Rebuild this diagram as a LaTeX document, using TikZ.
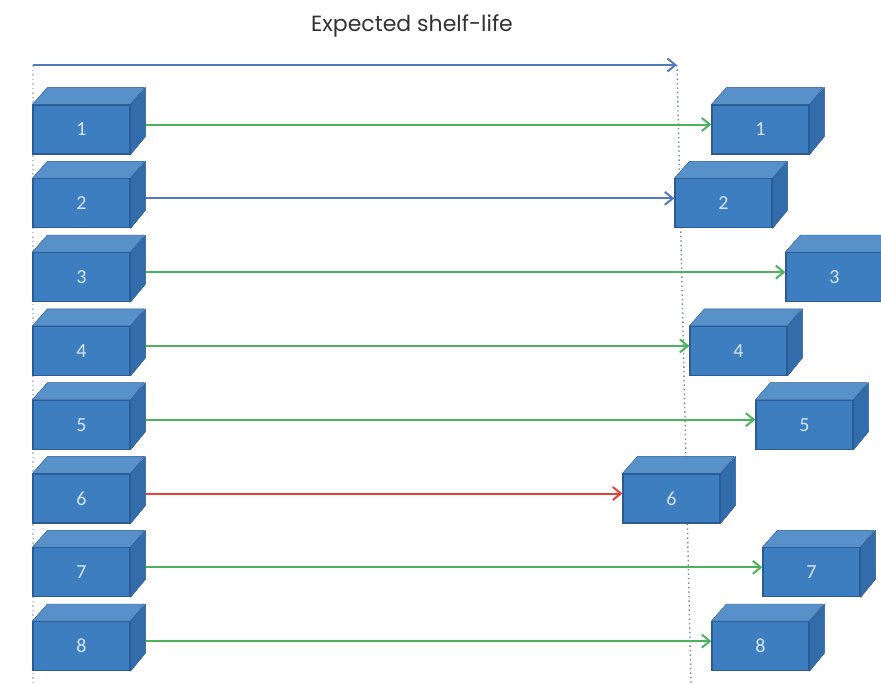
\documentclass[tikz,border=0pt]{standalone}
\usepackage{fontspec}
\setmainfont{Carlito}
\newfontfamily\titlefont{Poppins}
\usepackage{xcolor}
\usetikzlibrary{arrows.meta}

\definecolor{boxfront}{RGB}{60,126,192}
\definecolor{boxtop}{RGB}{88,144,202}
\definecolor{boxside}{RGB}{50,108,170}
\definecolor{boxedge}{RGB}{44,90,146}
\definecolor{boxtext}{RGB}{215,228,245}
\definecolor{okgreen}{RGB}{76,178,92}
\definecolor{lifeblue}{RGB}{82,120,190}
\definecolor{badred}{RGB}{232,64,52}
\definecolor{guidegray}{RGB}{120,135,170}

% front face as node, top and side faces drawn from its anchors
\newcommand\crate[4]{%
  \node[crate] (#1) at (#2+48.5,#3+24.5) {#4};
  \filldraw[draw=boxedge, fill=boxtop, line join=round]
    (#1.north west) -- ++(15pt,17pt) -- ++(97pt,0pt) -- (#1.north east) -- cycle;
  \filldraw[draw=boxedge, fill=boxside, line join=round]
    (#1.north east) -- ++(15pt,17pt) -- ++(0pt,-49pt) -- (#1.south east) -- cycle;
}

\begin{document}
\begin{tikzpicture}[x=1pt, y=-1pt,
  crate/.style={draw=boxedge, fill=boxfront, line width=1.2pt, inner sep=0pt,
                minimum width=97pt, minimum height=49pt, text=boxtext,
                font=\fontsize{20}{20}\selectfont},
  flow/.style={-{Straight Barb[length=8pt, width=13pt]}, line width=2pt},
  guide/.style={guidegray, line width=1.4pt, dash pattern=on 1.5pt off 3pt}
]
\useasboundingbox (0,0) rectangle (881,683);
\clip (0,0) rectangle (881,683);
\node[font=\titlefont\fontsize{22}{22}\selectfont, text=black!80] (title) at (412,26) {Expected shelf-life};
\coordinate (t0) at (33,65);
\coordinate (t1) at (677,65);
\coordinate (g0) at (33,683);
\coordinate (g1) at (691,683);
\draw[guide, guidegray!45] (t0) -- (g0);
\draw[guide] (t1) -- (g1);
\draw[flow, lifeblue] (t0) -- (t1);
\crate{l1}{33}{105}{1}
\crate{l2}{33}{178.8}{2}
\crate{l3}{33}{252.6}{3}
\crate{l4}{33}{326.4}{4}
\crate{l5}{33}{400.2}{5}
\crate{l6}{33}{474}{6}
\crate{l7}{33}{547.8}{7}
\crate{l8}{33}{621.6}{8}
\crate{r1}{712}{105}{1}
\crate{r2}{675}{178.8}{2}
\crate{r3}{786}{252.6}{3}
\crate{r4}{690}{326.4}{4}
\crate{r5}{756}{400.2}{5}
\crate{r6}{623}{474}{6}
\crate{r7}{763}{547.8}{7}
\crate{r8}{712}{621.6}{8}
\draw[flow, okgreen] ([xshift=15pt,yshift=5pt]l1.east) -- ([yshift=5pt]r1.west);
\draw[flow, lifeblue] ([xshift=15pt,yshift=5pt]l2.east) -- ([yshift=5pt]r2.west);
\draw[flow, okgreen] ([xshift=15pt,yshift=5pt]l3.east) -- ([yshift=5pt]r3.west);
\draw[flow, okgreen] ([xshift=15pt,yshift=5pt]l4.east) -- ([yshift=5pt]r4.west);
\draw[flow, okgreen] ([xshift=15pt,yshift=5pt]l5.east) -- ([yshift=5pt]r5.west);
\draw[flow, badred] ([xshift=15pt,yshift=5pt]l6.east) -- ([yshift=5pt]r6.west);
\draw[flow, okgreen] ([xshift=15pt,yshift=5pt]l7.east) -- ([yshift=5pt]r7.west);
\draw[flow, okgreen] ([xshift=15pt,yshift=5pt]l8.east) -- ([yshift=5pt]r8.west);
\end{tikzpicture}
\end{document}
